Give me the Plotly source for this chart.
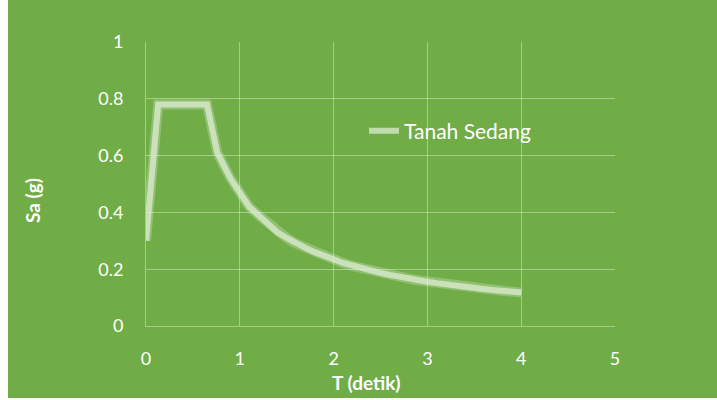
import plotly.graph_objects as go

# Data: response spectrum "Tanah Sedang"
T = [0, 0.13, 0.65, 0.76, 0.9, 1.0, 1.1, 1.2, 1.3, 1.4, 1.5, 1.6, 1.7, 1.8, 1.9, 2.0,
     2.1, 2.2, 2.3, 2.4, 2.5, 2.6, 2.7, 2.8, 2.9, 3.0, 3.1, 3.2, 3.3, 3.4, 3.5,
     3.6, 3.7, 3.8, 3.9, 4.0]
Sa = [0.30, 0.78, 0.78, 0.61, 0.52, 0.465, 0.42, 0.39, 0.36, 0.33, 0.31, 0.29, 0.275,
      0.26, 0.245, 0.235, 0.222, 0.212, 0.203, 0.195, 0.187, 0.18, 0.173, 0.167,
      0.161, 0.156, 0.151, 0.146, 0.141, 0.137, 0.134, 0.130, 0.127, 0.124, 0.121, 0.118]
series_name = "Tanah Sedang"
x_ticks = [0, 1, 2, 3, 4, 5]
y_ticks = [0, 0.2, 0.4, 0.6, 0.8, 1]
y_tick_labels = ["0", "0.2", "0.4", "0.6", "0.8", "1"]
x_title = "T (detik)"
y_title = "Sa (g)"

GREEN = "#70AD47"
FONT = "Lato, Open Sans, sans-serif"

fig = go.Figure()
# soft glow under the line
fig.add_trace(go.Scatter(x=T, y=Sa, mode="lines", showlegend=False, hoverinfo="skip",
                         line=dict(color="rgba(226,240,217,0.30)", width=10)))
fig.add_trace(go.Scatter(x=T, y=Sa, mode="lines", name=series_name,
                         line=dict(color="rgba(226,240,217,0.70)", width=6)))

W, H = 717, 400
L, R, TOP, B = 146, 102, 42, 74
pw, ph = W - L - R, H - TOP - B

fig.add_shape(type="rect", xref="paper", yref="paper", layer="below",
              x0=(8 - L) / pw, x1=(W - L) / pw,
              y0=(H - B - 398) / ph, y1=(H - B) / ph,
              fillcolor=GREEN, line=dict(width=0))

# axis titles placed like the original chart
fig.add_annotation(text="<b>" + x_title + "</b>", xref="paper", yref="paper",
                   x=(366 - L) / pw, y=(H - B - 382) / ph, showarrow=False,
                   xanchor="center", yanchor="middle",
                   font=dict(size=19, color="white", family=FONT))
fig.add_annotation(text="<b>" + y_title + "</b>", xref="paper", yref="paper",
                   x=(32 - L) / pw, y=(H - B - 201) / ph, showarrow=False, textangle=-90,
                   xanchor="center", yanchor="middle",
                   font=dict(size=19, color="white", family=FONT))

grid = "rgba(255,255,255,0.38)"
fig.update_layout(
    width=W, height=H,
    margin=dict(l=L, r=R, t=TOP, b=B),
    paper_bgcolor="white", plot_bgcolor="rgba(0,0,0,0)",
    font=dict(family=FONT, color="white", size=18),
    xaxis=dict(range=[0, 5], tickvals=x_ticks, showgrid=True, gridcolor=grid, gridwidth=1,
               zeroline=False, showline=True, linecolor=grid, mirror=False,
               ticks="", ticklabelstandoff=16, tickfont=dict(size=18, color="white")),
    yaxis=dict(range=[0, 1], tickvals=y_ticks, ticktext=y_tick_labels, showgrid=True,
               gridcolor=grid, gridwidth=1, zeroline=False, showline=True, linecolor=grid,
               ticks="", ticklabelstandoff=18, tickfont=dict(size=18, color="white")),
    legend=dict(x=(364 - L) / pw, y=(H - B - 131) / ph, xanchor="left", yanchor="middle",
                bgcolor="rgba(0,0,0,0)", font=dict(size=21, color="white")),
)

fig.write_html("out.html")
